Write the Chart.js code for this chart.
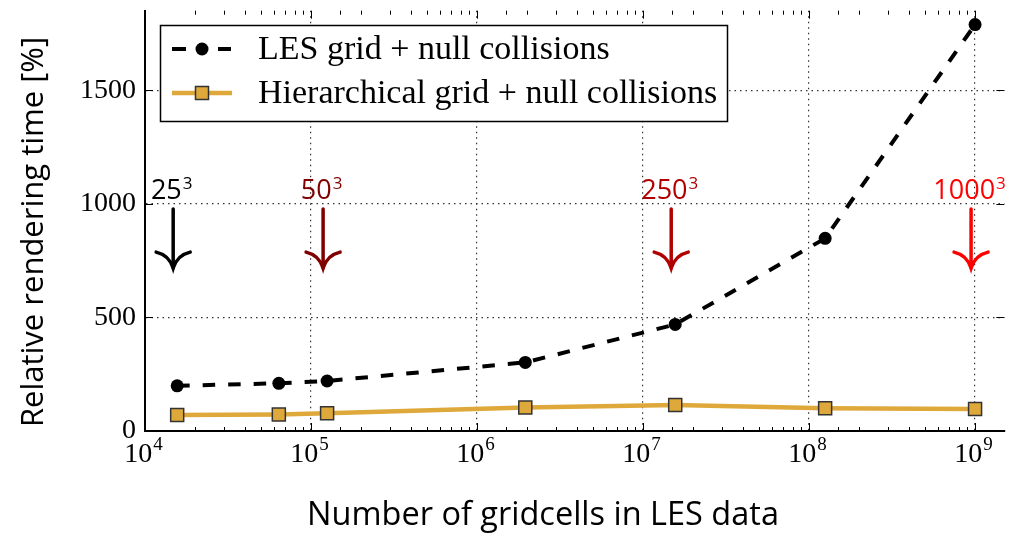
<!DOCTYPE html>
<html>
<head>
<meta charset="utf-8">
<script src="https://cdn.jsdelivr.net/npm/chart.js@4"></script>
<style>
    html, body { margin: 0; padding: 0; background: #fff; }
    #wrap { width: 1015px; height: 536px; }
</style>
</head>
<body>
<div id="wrap"><canvas id="chart" width="1015" height="536"></canvas></div>
<script>
// número de células (25^3 ... 1000^3)
const gridCells = [15625, 64000, 125000, 1953125, 15625000, 125000000, 1000000000];
const lesTime = [199, 210, 220, 302, 469, 848, 1789];
const hierTime = [70, 73, 78, 103, 114, 100, 97];

const seriesLabels = ['LES grid + null collisions', 'Hierarchical grid + null collisions'];
const xTickExps = [4, 5, 6, 7, 8, 9];
const yTicks = [0, 500, 1000, 1500];

// setas com rótulos (resolução da grade)
const markSizes = [25, 50, 250, 1000];
const markColors = ['#000000', '#800000', '#b00000', '#ff0000'];

const SERIF = '"Liberation Serif", "DejaVu Serif", serif';
const SANS = '"Open Sans", Lato, sans-serif';
const ORANGE = '#dfa83a';

function isPow10(v) {
    const l = Math.log10(v);
    return Math.abs(l - Math.round(l)) < 1e-9;
}

// texto com expoente (ex: 10^4, 25^3)
function drawPower(ctx, base, exp, cx, baseline, size, expSize, rise, color) {
    ctx.save();
    ctx.fillStyle = color;
    ctx.textBaseline = 'alphabetic';
    ctx.textAlign = 'left';
    ctx.font = size + 'px ' + ctx.__family;
    const wb = ctx.measureText(base).width;
    ctx.font = expSize + 'px ' + ctx.__family;
    const we = ctx.measureText(exp).width;
    const x0 = cx - (wb + we) / 2;
    ctx.font = size + 'px ' + ctx.__family;
    ctx.fillText(base, x0, baseline);
    ctx.font = expSize + 'px ' + ctx.__family;
    ctx.fillText(exp, x0 + wb + 1, baseline - rise);
    ctx.restore();
}

// marcas de escala para dentro + rótulos do eixo x
const axisDecor = {
    id: 'axisDecor',
    afterDraw(chart) {
        const ctx = chart.ctx;
        const area = chart.chartArea;
        const xs = chart.scales.x;
        const ys = chart.scales.y;
        ctx.save();
        ctx.strokeStyle = '#000';
        ctx.lineWidth = 1;
        xs.ticks.forEach(t => {
            if (t.value <= xs.min || t.value > xs.max) return;
            const px = Math.round(xs.getPixelForValue(t.value)) + 0.5;
            const len = isPow10(t.value) ? 8 : 4;
            if (!isPow10(t.value) && t.value >= xs.max) return;
            ctx.beginPath();
            ctx.moveTo(px, area.bottom);
            ctx.lineTo(px, area.bottom - len);
            ctx.moveTo(px, area.top);
            ctx.lineTo(px, area.top + len);
            ctx.stroke();
        });
        yTicks.forEach(v => {
            if (v === 0) return;
            const py = Math.round(ys.getPixelForValue(v)) + 0.5;
            ctx.beginPath();
            ctx.moveTo(area.left, py);
            ctx.lineTo(area.left + 8, py);
            ctx.moveTo(area.right, py);
            ctx.lineTo(area.right - 8, py);
            ctx.stroke();
        });
        ctx.__family = SERIF;
        xTickExps.forEach(e => {
            const px = xs.getPixelForValue(Math.pow(10, e));
            drawPower(ctx, '10', String(e), px - 2, 462, 28, 19, 12, '#000');
        });

        // títulos dos eixos
        ctx.fillStyle = '#000';
        ctx.font = '32.5px ' + SANS;
        ctx.textAlign = 'center';
        ctx.textBaseline = 'alphabetic';
        ctx.fillText('Number of gridcells in LES data', 543, 525);
        ctx.font = '31px ' + SANS;
        ctx.translate(43, 232);
        ctx.rotate(-Math.PI / 2);
        ctx.fillText('Relative rendering time [%]', 0, 0);
        ctx.restore();
    }
};

// setas indicando as resoluções
const arrows = {
    id: 'arrows',
    afterDatasetsDraw(chart) {
        const ctx = chart.ctx;
        const xs = chart.scales.x;
        const ys = chart.scales.y;
        ctx.save();
        ctx.__family = SANS;
        markSizes.forEach((n, i) => {
            const px = xs.getPixelForValue(n * n * n) - 4;
            const yLab = ys.getPixelForValue(1020);
            const yTop = ys.getPixelForValue(977);
            const yTip = ys.getPixelForValue(717);
            const col = markColors[i];
            drawPower(ctx, String(n), '3', px - 2, yLab, 27, 17, 10, col);
            ctx.strokeStyle = col;
            ctx.lineWidth = 3.5;
            ctx.lineCap = 'round';
            ctx.beginPath();
            ctx.moveTo(px, yTop);
            ctx.lineTo(px, yTip);
            ctx.stroke();
            // ponta curva
            ctx.beginPath();
            ctx.moveTo(px - 17, yTip - 16);
            ctx.quadraticCurveTo(px - 4, yTip - 13, px, yTip);
            ctx.quadraticCurveTo(px + 4, yTip - 13, px + 17, yTip - 16);
            ctx.stroke();
        });
        ctx.restore();
    }
};

// legenda com moldura dentro da área do gráfico
const boxLegend = {
    id: 'boxLegend',
    afterDraw(chart) {
        const ctx = chart.ctx;
        const ds = chart.data.datasets;
        ctx.save();
        ctx.fillStyle = '#fff';
        ctx.fillRect(160, 25, 567, 96);
        ctx.strokeStyle = '#000';
        ctx.lineWidth = 1.5;
        ctx.strokeRect(160.5, 25.5, 567, 96);

        const rows = [49, 93];
        ds.forEach((d, i) => {
            const y = rows[i];
            ctx.save();
            ctx.strokeStyle = d.borderColor;
            ctx.lineWidth = d.borderWidth;
            ctx.beginPath();
            if (d.borderDash) {
                ctx.moveTo(172, y); ctx.lineTo(186, y);
                ctx.moveTo(218, y); ctx.lineTo(231, y);
            } else {
                ctx.moveTo(172, y);
                ctx.lineTo(232, y);
            }
            ctx.stroke();
            ctx.fillStyle = d.pointBackgroundColor;
            ctx.strokeStyle = d.pointBorderColor;
            ctx.lineWidth = d.pointBorderWidth;
            if (d.pointStyle === 'rect') {
                ctx.fillRect(195.5, y - 6.5, 13, 13);
                ctx.strokeRect(195.5, y - 6.5, 13, 13);
            } else {
                ctx.beginPath();
                ctx.arc(202, y, 6.5, 0, Math.PI * 2);
                ctx.fill();
            }
            ctx.restore();
            ctx.fillStyle = '#000';
            ctx.font = '34px ' + SERIF;
            ctx.textBaseline = 'middle';
            ctx.fillText(d.label, 258, y + 1);
        });
        ctx.restore();
    }
};

const chart = new Chart(document.getElementById('chart'), {
    type: 'line',
    data: {
        datasets: [{
            label: seriesLabels[0],
            data: gridCells.map((x, i) => ({ x: x, y: lesTime[i] })),
            borderColor: '#000',
            borderWidth: 4,
            borderDash: [12.5, 13],
            pointStyle: 'circle',
            pointRadius: 6.5,
            pointBackgroundColor: '#000',
            pointBorderColor: '#000',
            pointBorderWidth: 0,
            tension: 0
        }, {
            label: seriesLabels[1],
            data: gridCells.map((x, i) => ({ x: x, y: hierTime[i] })),
            borderColor: ORANGE,
            borderWidth: 4.5,
            pointStyle: 'rect',
            pointRadius: 9.2,
            pointBackgroundColor: ORANGE,
            pointBorderColor: '#333',
            pointBorderWidth: 1.5,
            tension: 0
        }]
    },
    options: {
        responsive: false,
        animation: false,
        events: [],
        layout: { padding: { left: 0, top: 10, right: 7, bottom: 0 } },
        plugins: {
            legend: { display: false },
            tooltip: { enabled: false }
        },
        scales: {
            x: {
                type: 'logarithmic',
                min: 1e4,
                max: 1.5e9,
                border: { display: true, color: '#000', width: 2, dash: [1.5, 4] },
                grid: {
                    drawTicks: false,
                    lineWidth: 1.2,
                    color: ctx => (ctx.tick && isPow10(ctx.tick.value) && ctx.tick.value > 1e4) ? '#333' : 'rgba(0,0,0,0)'
                },
                ticks: { display: false, autoSkip: false },
                afterFit: s => { s.height = 105; s.paddingLeft = 0; s.paddingRight = 0; }
            },
            y: {
                min: 0,
                max: 1850,
                border: { display: true, color: '#000', width: 2, dash: [1.5, 4] },
                grid: {
                    drawTicks: false,
                    lineWidth: 1.2,
                    color: ctx => (ctx.tick && ctx.tick.value > 0) ? '#333' : 'rgba(0,0,0,0)'
                },
                afterBuildTicks: s => { s.ticks = yTicks.map(v => ({ value: v })); },
                ticks: {
                    padding: 9,
                    color: '#000',
                    font: { family: SERIF, size: 28 },
                    callback: v => String(v)
                },
                afterFit: s => { s.width = 145; s.paddingTop = 0; s.paddingBottom = 0; }
            }
        }
    },
    plugins: [axisDecor, arrows, boxLegend]
});
</script>
</body>
</html>
